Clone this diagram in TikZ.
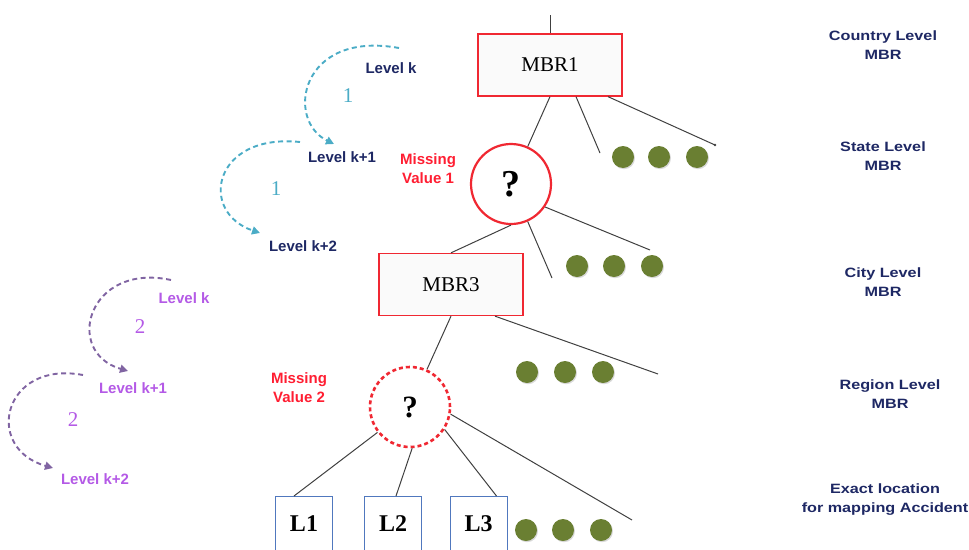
\documentclass[tikz,border=0pt]{standalone}
\usepackage{fontspec}
\setmainfont{Liberation Serif}
\newfontfamily\arialb{Liberation Sans}
\newfontfamily\widesans[FakeStretch=1.2]{Liberation Sans}
\usetikzlibrary{arrows.meta,shadows}
\definecolor{mbrred}{RGB}{240,40,50}
\definecolor{navyc}{RGB}{30,40,100}
\definecolor{dotgreen}{RGB}{106,127,50}
\definecolor{tealc}{RGB}{75,172,198}
\definecolor{purpc}{RGB}{128,100,162}
\definecolor{lvlpurple}{RGB}{180,90,230}
\definecolor{missred}{RGB}{255,30,50}
\definecolor{lblue}{RGB}{80,120,190}
\begin{document}
\begin{tikzpicture}[x=1pt,y=-1pt,
  mbr/.style={draw=mbrred, line width=1.3pt, fill=gray!4, minimum width=144pt, minimum height=62pt, inner sep=0pt, font=\fontsize{21}{24}\selectfont},
  qcirc/.style={circle, draw=mbrred, line width=2.2pt, fill=white, minimum size=80pt, inner sep=0pt},
  lbox/.style={draw=lblue, line width=1pt, minimum width=57pt, minimum height=64pt, inner sep=0pt, text depth=10pt, anchor=north, font=\bfseries\fontsize{24}{28}\selectfont},
  gdot/.style={circle, fill=dotgreen, minimum size=22pt, inner sep=0pt, drop shadow={opacity=0.3, shadow xshift=1pt, shadow yshift=-1.2pt}},
  edge/.style={draw=black!75, line width=1pt},
  lvl/.style={font=\arialb\bfseries\fontsize{15}{18}\selectfont},
  side/.style={align=center, text=navyc, font=\widesans\bfseries\fontsize{13.5}{19}\selectfont},
  miss/.style={align=center, text=missred, font=\arialb\bfseries\fontsize{15}{19}\selectfont},
  num/.style={font=\fontsize{21}{24}\selectfont},
  arcb/.style={draw=tealc, line width=1.9pt, dash pattern=on 5pt off 3.5pt, -{Triangle[length=8pt,width=8pt]}},
  arcp/.style={draw=purpc, line width=1.9pt, dash pattern=on 5pt off 3.5pt, -{Triangle[length=8pt,width=8pt]}}
]
\useasboundingbox (0,0) rectangle (969,549);
\clip (0,0) rectangle (969,549);

% tree nodes
\coordinate (top) at (550,15);
\node[mbr] (m1) at (550,65) {MBR1};
\node[qcirc] (c1) at (511,184) {\bfseries\fontsize{38}{40}\selectfont ?};
\node[mbr] (m3) at (451,284.5) {MBR3};
\node[qcirc, dash pattern=on 4pt off 3pt, line width=2.6pt] (c2) at (410,407) {\bfseries\fontsize{31}{34}\selectfont ?};
\node[lbox] (l1) at (304,496) {L1};
\node[lbox] (l2) at (393,496) {L2};
\node[lbox] (l3) at (478.5,496) {L3};

% free ends
\coordinate (e1) at (600,153);
\coordinate (e2) at (715,145);
\coordinate (e3) at (552,278);
\coordinate (e4) at (650,250);
\coordinate (e5) at (658,374);
\coordinate (e6) at (632,520);

% edges
\draw[edge] (top) -- (m1.north);
\draw[edge] (m1.south) -- (c1);
\draw[edge] ([xshift=26pt]m1.south) -- (e1);
\draw[edge] ([xshift=58pt]m1.south) -- (e2);
\fill[black!75] (e2) circle (1.3pt);
\draw[edge] (c1.south) -- (m3.north);
\draw[edge] (c1.-66) -- (e3);
\draw[edge] (c1.-34) -- (e4);
\draw[edge] (m3.south) -- (c2);
\draw[edge] ([xshift=44pt]m3.south) -- (e5);
\draw[edge] (c2.-142) -- ([xshift=-10pt]l1.north);
\draw[edge] (c2.-87) -- ([xshift=3pt]l2.north);
\draw[edge] (c2.-33) -- ([xshift=18pt]l3.north);
\draw[edge] (c2.-10) -- (e6);

% dots
\node[gdot] (d11) at (623,157) {};
\node[gdot] (d12) at (659,157) {};
\node[gdot] (d13) at (697,157) {};
\node[gdot] (d21) at (577,266) {};
\node[gdot] (d22) at (614,266) {};
\node[gdot] (d23) at (652,266) {};
\node[gdot] (d31) at (527,372) {};
\node[gdot] (d32) at (565,372) {};
\node[gdot] (d33) at (603,372) {};
\node[gdot] (d41) at (526,530) {};
\node[gdot] (d42) at (563,530) {};
\node[gdot] (d43) at (601,530) {};

% missing labels
\node[miss] (mv1) at (428,168.5) {Missing\\Value 1};
\node[miss] (mv2) at (299,387.5) {Missing\\Value 2};

% side labels
\node[side] (s1) at (883,45.5) {Country Level\\MBR};
\node[side] (s2) at (883,156) {State Level\\MBR};
\node[side] (s3) at (883,282) {City Level\\MBR};
\node[side] (s4) at (890,394.5) {Region Level\\MBR};
\node[side] (s5) at (885,499.5) {Exact location\\for mapping Accident};

% blue level group
\node[lvl, text=navyc] (bk) at (391,68) {Level k};
\node[lvl, text=navyc] (bk1) at (342,157) {Level k+1};
\node[lvl, text=navyc] (bk2) at (303,246) {Level k+2};
\node[num, text=tealc] (bn1) at (348,96) {1};
\node[num, text=tealc] (bn2) at (276,189) {1};
\coordinate (a1s) at (399,48);
\coordinate (a1e) at (334,144);
\coordinate (a2s) at (300,142);
\coordinate (a2e) at (260,233);
\draw[arcb] (a1s) .. controls (300,30) and (285,120) .. (a1e);
\draw[arcb] (a2s) .. controls (213,133) and (198,212) .. (a2e);

% purple level group
\node[lvl, text=lvlpurple] (pk) at (184,298) {Level k};
\node[lvl, text=lvlpurple] (pk1) at (133,388) {Level k+1};
\node[lvl, text=lvlpurple] (pk2) at (95,479) {Level k+2};
\node[num, text=lvlpurple] (pn1) at (140,327) {2};
\node[num, text=lvlpurple] (pn2) at (73,420) {2};
\coordinate (a3s) at (171,280);
\coordinate (a3e) at (128,371);
\coordinate (a4s) at (83,375);
\coordinate (a4e) at (53,468);
\draw[arcp] (a3s) .. controls (88,262) and (63,352) .. (a3e);
\draw[arcp] (a4s) .. controls (3,360) and (-17,448) .. (a4e);
\end{tikzpicture}
\end{document}
